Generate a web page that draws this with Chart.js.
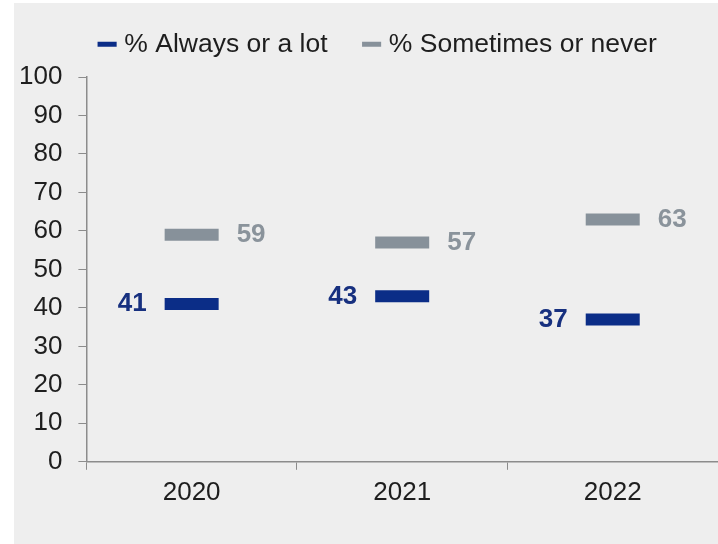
<!DOCTYPE html>
<html>
<head>
<meta charset="utf-8">
<script src="https://cdn.jsdelivr.net/npm/chart.js@4"></script>
<style>
  html, body { margin: 0; padding: 0; background: #ffffff; }
  #panel {
    position: absolute;
    left: 14px;
    top: 3px;
    width: 704px;
    height: 541px;
    background: #eeeeee;
  }
</style>
</head>
<body>
<div id="panel"><canvas id="chart" width="704" height="541"></canvas></div>
<script>
// Survey results by year
const years = ['2020', '2021', '2022'];
const alwaysOrALot = [41, 43, 37];
const sometimesOrNever = [59, 57, 63];
const yTicks = [0, 10, 20, 30, 40, 50, 60, 70, 80, 90, 100];

const BLUE = '#0b2d87';
const BLUE_TEXT = '#17307f';
const GRAY = '#87919a';
const GRAY_TEXT = '#8a939b';
const AXIS = '#8c8c8c';
const TEXT = '#1e1e1e';
const FONT = "'Liberation Sans', Arial, sans-serif";

// Value labels next to each dash: blue ones on the left, gray ones on the right
const valueLabels = {
  id: 'valueLabels',
  afterDatasetsDraw(chart) {
    const ctx = chart.ctx;
    ctx.save();
    ctx.font = 'bold 26px ' + FONT;
    ctx.textBaseline = 'middle';
    chart.data.datasets.forEach((ds, i) => {
      const meta = chart.getDatasetMeta(i);
      const left = i === 0;
      ctx.fillStyle = left ? BLUE_TEXT : GRAY_TEXT;
      ctx.textAlign = left ? 'right' : 'left';
      meta.data.forEach((pt, j) => {
        const half = ds.pointRadius;
        const x = left ? pt.x - half - 18 : pt.x + half + 18;
        ctx.fillText(String(ds.data[j]), x, pt.y);
      });
    });
    ctx.restore();
  }
};

// Nudge the legend row a bit to the right of the canvas centre
const legendShift = {
  id: 'legendShift',
  afterLayout(chart) {
    if (chart.legend) {
      chart.legend.left += 18;
      chart.legend.right += 18;
    }
  }
};

const ctx = document.getElementById('chart').getContext('2d');
new Chart(ctx, {
  type: 'line',
  data: {
    labels: years,
    datasets: [
      {
        label: '% Always or a lot',
        data: alwaysOrALot,
        showLine: false,
        borderColor: BLUE,
        backgroundColor: BLUE,
        pointStyle: 'line',
        pointRadius: 27,
        pointBorderWidth: 12,
        pointBorderColor: BLUE
      },
      {
        label: '% Sometimes or never',
        data: sometimesOrNever,
        showLine: false,
        borderColor: GRAY,
        backgroundColor: GRAY,
        pointStyle: 'line',
        pointRadius: 27,
        pointBorderWidth: 12,
        pointBorderColor: GRAY
      }
    ]
  },
  options: {
    responsive: false,
    animation: false,
    events: [],
    layout: {
      autoPadding: false,
      padding: { top: -12, left: -11, right: -3, bottom: 29 }
    },
    plugins: {
      tooltip: { enabled: false },
      legend: {
        position: 'top',
        labels: {
          usePointStyle: true,
          boxWidth: 8,
          boxHeight: 13.5,
          padding: 40,
          color: TEXT,
          font: { family: FONT, size: 26.5 },
          generateLabels(chart) {
            return chart.data.datasets.map((ds, i) => ({
              text: ds.label,
              fillStyle: ds.borderColor,
              strokeStyle: ds.borderColor,
              fontColor: TEXT,
              lineWidth: 5,
              pointStyle: 'line',
              hidden: false,
              datasetIndex: i
            }));
          }
        }
      },
      // empty spacer between the legend and the plot
      subtitle: {
        display: true,
        text: '',
        position: 'top',
        weight: 500,
        padding: { top: 0, bottom: 8.5 },
        font: { size: 1, lineHeight: 1 }
      }
    },
    scales: {
      x: {
        offset: true,
        grid: {
          offset: true,
          drawOnChartArea: false,
          tickLength: 8,
          color: AXIS
        },
        border: { color: AXIS, width: 1.5 },
        ticks: {
          padding: 7,
          color: TEXT,
          font: { family: FONT, size: 26 }
        }
      },
      y: {
        min: 0,
        max: 100,
        afterBuildTicks(scale) {
          scale.ticks = yTicks.map(v => ({ value: v }));
        },
        grid: {
          drawOnChartArea: false,
          tickLength: 8,
          color: AXIS
        },
        border: { color: AXIS, width: 1.5 },
        ticks: {
          padding: 16,
          color: TEXT,
          font: { family: FONT, size: 26 }
        }
      }
    }
  },
  plugins: [valueLabels, legendShift]
});
</script>
</body>
</html>
